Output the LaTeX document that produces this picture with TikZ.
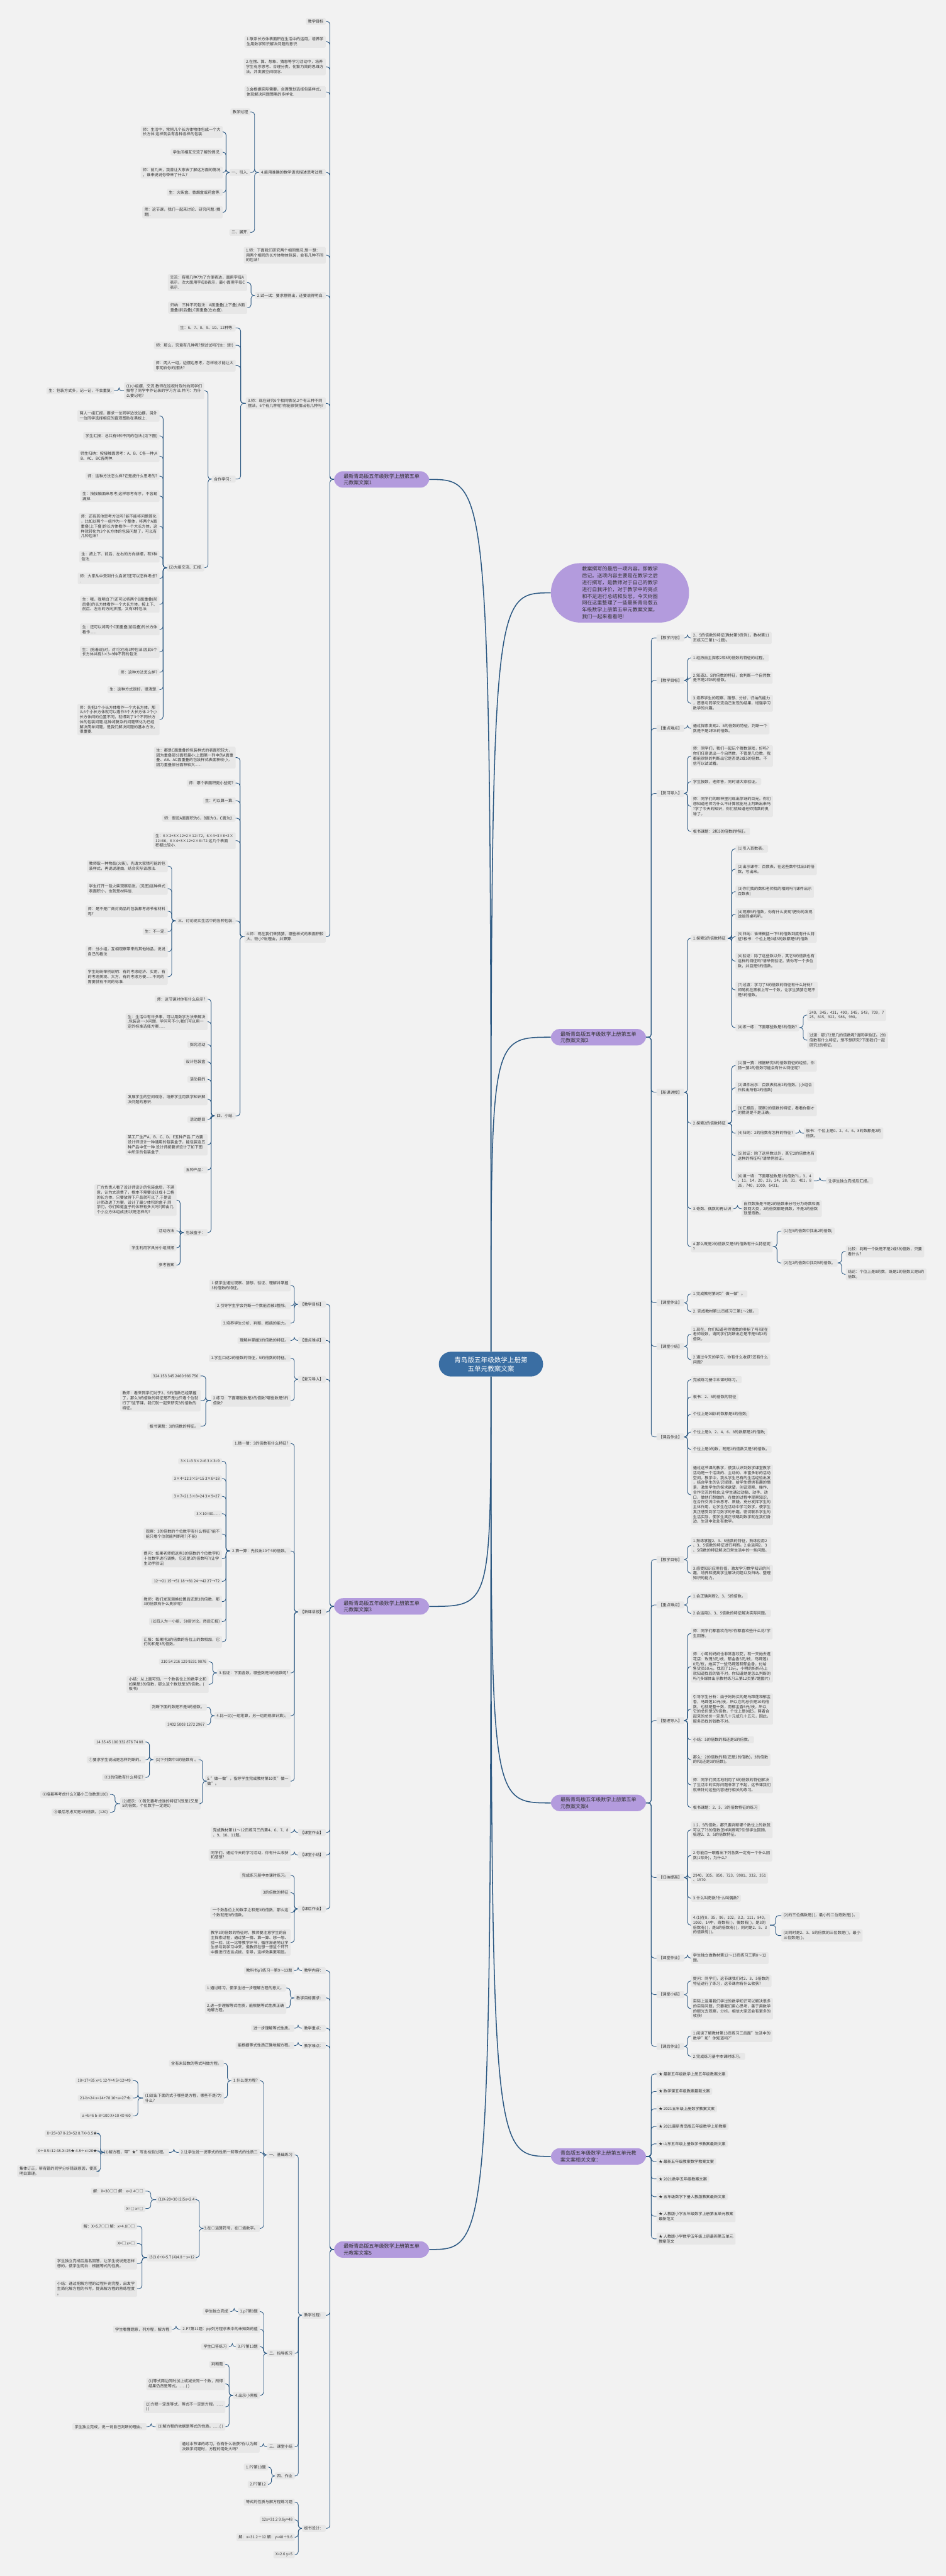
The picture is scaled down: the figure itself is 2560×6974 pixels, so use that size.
\documentclass[tikz,border=0pt]{standalone}
\usepackage{fontspec}
\setmainfont{Noto Sans CJK SC}
\usetikzlibrary{calc}
\definecolor{bgc}{RGB}{242,242,242}
\definecolor{leafc}{RGB}{231,231,231}
\definecolor{linec}{RGB}{43,88,130}
\definecolor{purp}{RGB}{179,155,221}
\definecolor{blu}{RGB}{58,110,163}
\definecolor{txtc}{RGB}{51,51,51}
\tikzset{
  leaf/.style={fill=leafc, text=txtc, rounded corners=3pt, inner xsep=6pt, inner ysep=4.5pt, align=left, font=\fontsize{10.5}{13.2}\selectfont},
  lf/.style={leaf, anchor=east},
  rt/.style={leaf, anchor=west},
  branch/.style={fill=purp, text=txtc, rounded corners=24pt, inner xsep=26pt, inner ysep=7pt, align=left, anchor=west, font=\fontsize{13.7}{17.8}\selectfont},
  link/.style={draw=linec, line width=1.5pt, rounded corners=8pt},
  trunk/.style={draw=linec, line width=2.6pt}
}
% left and right elbow links
\newcommand{\lk}[2]{\draw[link] (#1.west) -- ($(#1.west)!.5!(#1.west-|#2.east)$) |- (#2.east);}
\newcommand{\rk}[2]{\draw[link] (#1.east) -- ($(#1.east)!.5!(#1.east-|#2.west)$) |- (#2.west);}
\begin{document}
\begin{tikzpicture}[x=1pt,y=-1pt]
\fill[bgc] (0,0) rectangle (2560,6974);
\useasboundingbox (0,0) rectangle (2560,6974);

% centre
\node[fill=blu, text=white, rounded corners=33pt, minimum width=282pt, minimum height=67pt, align=center, font=\fontsize{18}{24}\selectfont] (c) at (1329,3693) {青岛版五年级数学上册第\\五单元教案文案};

% ---------------- plan 1
\node[branch] (b1) at (904,1298) {最新青岛版五年级数学上册第五单\\元教案文案1};
\node[lf] (a1) at (882,58) {教学目标};
\node[lf] (a2) at (882,113) {1.联系长方体表面积在生活中的运用，培养学\\生用数学知识解决问题的意识.};
\node[lf] (a3) at (882,181) {2.在摆、算、想象、猜想等学习活动中，培养\\学生有序思考、合理分类、化繁为简的思维方\\法，并发展空间观念.};
\node[lf] (a4) at (882,249) {3.会根据实际需要，合理策划选择包装样式，\\体现解决问题策略的多样化.};
\node[lf] (a5) at (882,467) {4.能用准确的数学语言描述思考过程.};
\node[lf] (a51) at (678,303) {教学过程};
\node[lf] (a52) at (678,467) {一、引入.};
\node[lf] (a53) at (678,629) {二、展开.};
\node[lf] (a521) at (603,357) {师：生活中，常把几个长方体物体包成一个大\\长方体.这样就会有各种各样的包装.};
\node[lf] (a522) at (603,412) {学生间相互交流了解的情况.};
\node[lf] (a523) at (603,467) {师：前几天，我曾让大家去了解这方面的情况\\，谁来说说你带来了什么?};
\node[lf] (a524) at (603,521) {生：火柴盒、香烟盒或药盒等.};
\node[lf] (a525) at (603,575) {师：这节课，我们一起来讨论、研究问题.(揭\\题).};
\node[lf] (a6) at (882,691) {1.师：下面我们研究两个相同情况.想一想：\\用两个相同的长方体物体包装，会有几种不同\\的包法?};
\node[lf] (a7) at (882,800) {2.试一试：要求摆得出，还要说得明白.};
\node[lf] (a71) at (669,765) {交流：有哪几种?为了方便表达，面用字母A\\表示，次大面用字母B表示，最小面用字母C\\表示.};
\node[lf] (a72) at (669,833) {归纳：三种不同包法：A面重叠(上下叠);B面\\重叠(前后叠);C面重叠(左右叠).};
\node[lf] (a8) at (882,1092) {3.师：现在研究6个相同情况.2个有三种不同\\摆法，6个有几种呢?你能很快猜出有几种吗?};
\node[lf] (a81) at (638,888) {生：6、7、8、9、10、12种等.};
\node[lf] (a82) at (638,935) {师：那么，究竟有几种呢?想试试吗?(生：想!)};
\node[lf] (a83) at (638,990) {师：两人一组，边摆边思考，怎样说才能让大\\家明白你的摆法?};
\node[lf] (a84) at (638,1297) {合作学习：};
\node[lf] (a841) at (553,1058) {(1)小组摆、交流.教师在巡视时及时向同学们\\推荐了同学中作记录的学习方法.并问：为什\\么要记呢?};
\node[lf] (a8411) at (309,1058) {生：包装方式多，记一记，不会重复.};
\node[lf] (a842) at (553,1537) {(2)大组交流、汇报.};
\node[lf] (p1) at (432,1126) {两人一组汇报，要求一位同学边说边摆，另外\\一位同学选择相应的直观图贴在黑板上.};
\node[lf] (p2) at (432,1180) {学生汇报：总共有9种不同的包法.(见下图)};
\node[lf] (p3) at (432,1235) {师生归纳：按接触面思考：A、B、C各一种;A\\B、AC、BC各两种.};
\node[lf] (p4) at (432,1289) {师：这种方法怎么样?它是按什么思考的?};
\node[lf] (p5) at (432,1343) {生：按接触面来思考;这样思考有序，不容易\\漏掉.};
\node[lf] (p6) at (432,1425) {师：还有其他思考方法吗?能不能将问题简化\\，比如以两个一组作为一个整体，将两个A面\\重叠(上下叠)的长方体看作一个大长方体，这\\样就转化为3个长方体的包装问题了，可以有\\几种包法?};
\node[lf] (p7) at (432,1507) {生：按上下、前后、左右的方向拼摆，有3种\\包法.};
\node[lf] (p8) at (432,1566) {师：大家从中受到什么启发?还可以怎样考虑?\\.};
\node[lf] (p9) at (432,1636) {生：哦，我明白了!还可以将两个B面重叠(前\\后叠)的长方体看作一个大长方体，按上下、\\前后、左右的方向拼摆，又有3种包法.};
\node[lf] (p10) at (432,1704) {生：还可以将两个C面重叠(前后叠)的长方体\\看作......};
\node[lf] (p11) at (432,1765) {生：(抢着说)对，对!它也有3种包法.因此6个\\长方体共有3×3=9种不同的包法.};
\node[lf] (p12) at (432,1820) {师：这种方法怎么样?};
\node[lf] (p13) at (432,1867) {生：这种方式很好，很清楚.};
\node[lf] (p14) at (432,1948) {师：先把2个小长方体看作一个大长方体，那\\么6个小长方体就可以看作3个大长方体.2个小\\长方体间的位置不同，就得到了3个不同长方\\体的包装问题.这种将复杂的问题转化为已经\\解决简单问题，是我们解决问题的基本方法，\\很重要.};
\node[lf] (a9) at (882,2536) {4.师：现在我们来猜猜，哪些样式的表面积较\\大、较小?说理由，并算算.};
\node[lf] (a91) at (638,2051) {生：都是C面重叠的包装样式的表面积较大，\\因为重叠部分面积最小;上图第一列中的A面重\\叠、AB、AC面重叠的包装样式表面积较小，\\因为重叠部分面积较大......};
\node[lf] (a92) at (638,2120) {师：哪个表面积更小些呢?};
\node[lf] (a93) at (638,2168) {生：可以算一算.};
\node[lf] (a94) at (638,2215) {师：假设A面面积为6，B面为3，C面为2.};
\node[lf] (a95) at (638,2276) {生：6×2+3×12+2×12=72，6×4+3×6+2×\\12=66，6×4+3×12+2×6=72.这几个表面\\积都比较小.};
\node[lf] (a96) at (638,2493) {三、讨论现实生活中的各种包装.};
\node[lf] (a961) at (454,2345) {教师取一种物品(火柴)，先请大家猜可能的包\\装样式，再说说理由，结合实际谈想法.};
\node[lf] (a962) at (454,2406) {学生打开一包火柴观察后说，(见图)这种样式\\表面积小，也就是材料省.};
\node[lf] (a963) at (454,2467) {师：是不是厂商对商品的包装都考虑节省材料\\呢?};
\node[lf] (a964) at (454,2522) {生：不一定.};
\node[lf] (a965) at (454,2576) {师：分小组，互相观察带来的其他物品，说说\\自己的看法.};
\node[lf] (a966) at (454,2644) {学生纷纷举例说明：有的考虑经济、实用，有\\的考虑美观、大方，有的考虑方便......不同的\\需要就有不同的标准.};
\node[lf] (a97) at (638,3021) {四、小结.};
\node[lf] (q1) at (562,2705) {师：这节课对你有什么启示?};
\node[lf] (q2) at (562,2766) {生：生活中有许多事，可以用数学方法来解决\\;包装这一小问题，学问可不小;我们可以用一\\定的标准选择方案......};
\node[lf] (q3) at (562,2828) {探究活动};
\node[lf] (q4) at (562,2875) {设计包装盒};
\node[lf] (q5) at (562,2922) {活动目的};
\node[lf] (q6) at (562,2976) {发展学生的空间观念，培养学生用数学知识解\\决问题的意识.};
\node[lf] (q7) at (562,3031) {活动题目};
\node[lf] (q8) at (562,3099) {某工厂生产A、B、C、D、E五种产品.厂方要\\设计师设计一种通用的包装盒子，能包装这五\\种产品中任一种.设计师按要求设计了如下图\\中所示的包装盒子.};
\node[lf] (q9) at (562,3167) {五种产品：};
\node[lf] (q10) at (562,3337) {包装盒子：};
\node[lf] (q101) at (478,3249) {厂方负责人看了设计师设计的包装盒后，不满\\意，认为太浪费了，根本不需要设计成十二格\\的长方体，只要放得下产品就可以了.于是设\\计师改进了方案，设计了最少体积的盒子.同\\学们，你们知道盒子的体积有多大吗?(即由几\\个小立方体组成)形状是怎样的?};
\node[lf] (q102) at (478,3332) {活动方法};
\node[lf] (q103) at (478,3378) {学生利用学具分小组拼摆};
\node[lf] (q104) at (478,3425) {参考答案};

% ---------------- plan 3
\node[branch] (b3) at (904,4349) {最新青岛版五年级数学上册第五单\\元教案文案3};
\node[lf] (c1) at (882,3531) {【教学目标】};
\node[lf] (c11) at (787,3480) {1.使学生通过观察、猜想、验证、理解并掌握\\3的倍数的特征。};
\node[lf] (c12) at (787,3535) {2.引导学生学会判断一个数能否被3整除。};
\node[lf] (c13) at (787,3582) {3.培养学生分析、判断、概括的能力。};
\node[lf] (c2) at (882,3629) {【重点难点】};
\node[lf] (c21) at (787,3629) {理解并掌握3的倍数的特征。};
\node[lf] (c3) at (882,3734) {【复习导入】};
\node[lf] (c31) at (787,3677) {1.学生口述2的倍数的特征，5的倍数的特征。};
\node[lf] (c32) at (787,3792) {2.练习：下面哪些数是2的倍数?哪些数是5的\\倍数?};
\node[lf] (c321) at (543,3725) {324 153 345 2460 986 756};
\node[lf] (c322) at (543,3792) {教师：看来同学们对于2、5的倍数已经掌握\\了，那么3的倍数的特征是不是也只看个位就\\行了?这节课，我们就一起来研究3的倍数的\\特征。};
\node[lf] (c323) at (543,3861) {板书课题：3的倍数的特征。};
\node[lf] (c4) at (882,4364) {【新课讲授】};
\node[lf] (c41) at (787,3908) {1.猜一猜：3的倍数有什么特征?};
\node[lf] (c42) at (787,4199) {2.算一算：先找出10个3的倍数。};
\node[lf] (r1) at (601,3956) {3×1=3 3×2=6 3×3=9};
\node[lf] (r2) at (601,4003) {3×4=12 3×5=15 3×6=18};
\node[lf] (r3) at (601,4051) {3×7=21 3×8=24 3×9=27};
\node[lf] (r4) at (601,4098) {3×10=30......};
\node[lf] (r5) at (601,4153) {观察：3的倍数的个位数字有什么特征?能不\\能只看个位就能判断呢?(不能)};
\node[lf] (r6) at (601,4220) {提问：如果老师把这些3的倍数的个位数字和\\十位数字进行调换，它还是3的倍数吗?(让学\\生动手验证)};
\node[lf] (r7) at (601,4281) {12→21 15→51 18→81 24→42 27→72};
\node[lf] (r8) at (601,4336) {教师：我们发现调换位置后还是3的倍数，那\\3的倍数有什么奥妙呢?};
\node[lf] (r9) at (601,4390) {(以四人为一小组、分组讨论，然后汇报)};
\node[lf] (r10) at (601,4445) {汇报：如果把3的倍数的各位上的数相加，它\\们的和是3的倍数。};
\node[lf] (c43) at (787,4529) {3.验证：下面各数，哪些数是3的倍数呢?};
\node[lf] (c431) at (565,4499) {210 54 216 129 9231 9876};
\node[lf] (c432) at (565,4560) {小结：从上面可知，一个数各位上的数字之和\\如果是3的倍数，那么这个数就是3的倍数。(\\板书)};
\node[lf] (c44) at (787,4645) {4.比一比(一组笔算，另一组用规律计算)。};
\node[lf] (c441) at (560,4622) {判断下面的数是不是3的倍数。};
\node[lf] (c442) at (560,4669) {3402 5003 1272 2967};
\node[lf] (c45) at (787,4822) {5."做一做"，指导学生完成教材第10页"做一\\做"。};
\node[lf] (c451) at (543,4764) {(1)下列数中3的倍数有 。};
\node[lf] (c4511) at (394,4716) {14 35 45 100 332 876 74 88};
\node[lf] (c4512) at (394,4764) {①要求学生说出是怎样判断的。};
\node[lf] (c4513) at (394,4812) {②3的倍数有什么特征?};
\node[lf] (c452) at (543,4883) {(2)提示：①首先要考虑谁的特征?(既是2又是\\5的倍数，个位数字一定是0)};
\node[lf] (c4521) at (298,4858) {②接着再考虑什么?(最小三位数是100)};
\node[lf] (c4522) at (298,4906) {③最后考虑又是3的倍数。(120)};
\node[lf] (c5) at (882,4961) {【课堂作业】};
\node[lf] (c51) at (787,4961) {完成教材第11～12页练习三的第4、6、7、8\\、9、10、11题。};
\node[lf] (c6) at (882,5022) {【课堂小结】};
\node[lf] (c61) at (787,5022) {同学们，通过今天的学习活动，你有什么收获\\和感想?};
\node[lf] (c7) at (882,5168) {【课后作业】};
\node[lf] (c71) at (787,5077) {完成练习册中本课时练习。};
\node[lf] (c72) at (787,5124) {3的倍数的特征};
\node[lf] (c73) at (787,5178) {一个数各位上的数字之和是3的倍数，那么这\\个数就是3的倍数。};
\node[lf] (c74) at (787,5259) {教学3的倍数的特征时，教师要注意学生的自\\主探索过程，通过猜一猜、算一算、想一想、\\验一验、比一比等教学环节，循序渐进地让学\\生参与到学习中来，但教师在想一想这个环节\\中要进行适当点拨、引导，这样效果更明显。};

% ---------------- plan 5
\node[branch] (b5) at (904,6090) {最新青岛版五年级数学上册第五单\\元教案文案5};
\node[lf] (e1) at (882,5335) {教学内容：};
\node[lf] (e11) at (797,5335) {教科书p7练习一第9～13题};
\node[lf] (e2) at (882,5409) {教学目标要求：};
\node[lf] (e21) at (775,5382) {1.通过练习，使学生进一步理解方程的意义。};
\node[lf] (e22) at (775,5436) {2.进一步理解等式性质，能根据等式性质正确\\地解方程。};
\node[lf] (e3) at (882,5491) {教学重点：};
\node[lf] (e31) at (797,5491) {进一步理解等式性质。};
\node[lf] (e4) at (882,5538) {教学难点：};
\node[lf] (e41) at (797,5538) {能根据等式性质正确地解方程。};
\node[lf] (e5) at (882,6268) {教学过程：};
\node[lf] (e51) at (798,5834) {一、基础练习};
\node[lf] (e511) at (704,5633) {1.什么是方程?};
\node[lf] (e5111) at (606,5586) {含有未知数的等式叫做方程。};
\node[lf] (e5112) at (606,5680) {(1)说出下面的式子哪些是方程，哪些不是?为\\什么?};
\node[lf] (s1) at (360,5633) {18+17=35 x=1 12-Y=4 S+12=49};
\node[lf] (s2) at (360,5680) {21-b<24 x=14+78 16+a=27+b};
\node[lf] (s3) at (360,5728) {a +b=6 b-8=100 X+10 4X=60};
\node[lf] (e512) at (704,5827) {2.让学生说一说等式的性质一和等式的性质二};
\node[lf] (e5121) at (458,5827) {(1)解方程，带"★"写出检验过程。};
\node[lf] (t1) at (269,5776) {X+25=37 X-23=52 0.7X=3.5★};
\node[lf] (t2) at (269,5823) {X÷0.5=12 48-X=25★ 4.8÷x=20★};
\node[lf] (t3) at (269,5878) {集体订正，帮有错的同学分析错误原因，使其\\明白算理。};
\node[lf] (e513) at (704,6033) {3.在○运算符号，在□填数字。};
\node[lf] (e5131) at (533,5955) {(1)X-20=30 (2)5x=2.4};
\node[lf] (u1) at (394,5932) {解：X=30○□ 解：x=2.4○□};
\node[lf] (u2) at (394,5979) {X=□ x=□};
\node[lf] (e5132) at (533,6112) {(3)3.6+X=5.7 (4)4.8÷x=12};
\node[lf] (v1) at (371,6027) {解：X=5.7○□ 解：x=4.8○□};
\node[lf] (v2) at (371,6074) {X=□ x=□};
\node[lf] (v3) at (371,6128) {学生独立完成后指名回答，让学生说说是怎样\\想的。使学生明白：根据等式的性质。};
\node[lf] (v4) at (371,6196) {小结：通过把解方程的过程补充完整，启发学\\生简化解方程的书写，提高解方程的熟练程度\\。};
\node[lf] (e52) at (798,6371) {二、指导练习};
\node[lf] (e521) at (704,6258) {1.p7第9题};
\node[lf] (e5211) at (624,6258) {学生独立完成};
\node[lf] (e522) at (704,6306) {2.P7第11题：pp列方程求表中的未知数的值};
\node[lf] (e5221) at (465,6306) {学生看懂题意，列方程，解方程};
\node[lf] (e523) at (704,6353) {3.P7第13题};
\node[lf] (e5231) at (620,6353) {学生口答练习};
\node[lf] (e524) at (704,6485) {4.出示小黑板};
\node[lf] (w1) at (610,6401) {判断题};
\node[lf] (w2) at (610,6454) {(1)等式两边同时加上或减去同一个数，所得\\结果仍然是等式。......( )};
\node[lf] (w3) at (610,6516) {(2)方程一定是等式，等式不一定是方程。......\\( )};
\node[lf] (w4) at (610,6570) {(3)解方程的依据是等式的性质。......( )};
\node[lf] (w41) at (397,6570) {学生独立完成，说一说自己判断的理由。};
\node[lf] (e53) at (798,6624) {三、课堂小结};
\node[lf] (e531) at (703,6624) {通过本节课的练习，你有什么收获?你认为解\\决数学问题时，方程的用处大吗?};
\node[lf] (e54) at (798,6703) {四、作业};
\node[lf] (e541) at (726,6679) {1.P7第10题};
\node[lf] (e542) at (726,6726) {2.P7第12};
\node[lf] (e6) at (882,6845) {板书设计：};
\node[lf] (e61) at (798,6774) {等式的性质与解方程练习题};
\node[lf] (e62) at (798,6822) {12x=31.2 9.6y=48};
\node[lf] (e63) at (798,6869) {解：x=31.2÷12 解：y=48÷9.6};
\node[lf] (e64) at (798,6916) {X=2.6 y=5};

% ---------------- intro
\node[branch, rounded corners=80pt, minimum width=374pt, minimum height=161pt, inner xsep=10pt, font=\fontsize{13.7}{18.4}\selectfont] (b0) at (1491,1605) {教案撰写的最后一项内容，即教学\\后记。送项内容主要是在教学之后\\进行撰写，是教师对于自己的教学\\进行自我评价，对于教学中的亮点\\和不足进行总结和反思。今天树图\\网在这里整理了一些最新青岛版五\\年级数学上册第五单元教案文案，\\我们一起来看看吧!};

% ---------------- plan 2
\node[branch] (b2) at (1491,2808) {最新青岛版五年级数学上册第五单\\元教案文案2};
\node[rt] (d1) at (1777,1727) {【教学内容】};
\node[rt] (d11) at (1870,1727) {2、5的倍数的特征(教材第9页例1，教材第11\\页练习三第1～2题)。};
\node[rt] (d2) at (1777,1842) {【教学目标】};
\node[rt] (d21) at (1870,1781) {1.经历自主探索2和5的倍数的特征的过程。};
\node[rt] (d22) at (1870,1835) {2.知道2、5的倍数的特征，会判断一个自然数\\是不是2和5的倍数。};
\node[rt] (d23) at (1870,1904) {3.培养学生的观察、猜想、分析、归纳的能力\\，愿意与同学交流自己发现的结果，增强学习\\数学的兴趣。};
\node[rt] (d3) at (1777,1972) {【重点难点】};
\node[rt] (d31) at (1870,1972) {通过探索发现2、5的倍数的特征，判断一个\\数是不是2和5的倍数。};
\node[rt] (d4) at (1777,2148) {【复习导入】};
\node[rt] (d41) at (1870,2047) {师：同学们，我们一起玩个猜数游戏，好吗?\\你们任意说出一个自然数，不管是几位数，我\\都能很快的判断出它是否是2或5的倍数。不\\信可以试试看。};
\node[rt] (d42) at (1870,2116) {学生报数，老师答，同时请大家验证。};
\node[rt] (d43) at (1870,2183) {师：同学们的眼神里闪现出惊讶的目光。你们\\想知道老师为什么不计算就能马上判断出来吗\\?学了今天的知识，你们就知道老师猜数的奥\\秘了。};
\node[rt] (d44) at (1870,2251) {板书课题：2和5的倍数的特征。};
\node[rt] (d5) at (1777,2957) {【新课讲授】};
\node[rt] (d51) at (1870,2540) {1.探索5的倍数特征};
\node[rt] (h1) at (1991,2298) {(1)引入百数表。};
\node[rt] (h2) at (1991,2353) {(2)出示课件：百数表，在这些数中找出5的倍\\数，写出来。};
\node[rt] (h3) at (1991,2414) {(3)你们找的数和老师找的相同吗?(课件出示\\百数表)};
\node[rt] (h4) at (1991,2475) {(4)观察5的倍数，你有什么发现?把你的发现\\说给同桌听听。};
\node[rt] (h5) at (1991,2536) {(5)归纳：谁来概括一下5的倍数到底有什么特\\征?板书：个位上是0或5的数都是5的倍数};
\node[rt] (h6) at (1991,2602) {(6)验证：除了这些数以外，其它5的倍数也有\\这样的特征吗?请举例验证。请你写一个多位\\数，并且是5的倍数。};
\node[rt] (h7) at (1991,2680) {(7)过渡：学习了5的倍数的特征有什么好处?\\师随机在黑板上写一个数，让学生猜猜它是不\\是5的倍数。};
\node[rt] (h8) at (1991,2782) {(8)练一练：下面哪些数是5的倍数?};
\node[rt] (h81) at (2185,2748) {240，345，431，490，545，543，709，7\\25，815，922，986，990。};
\node[rt] (h82) at (2185,2816) {过渡：那172是几的倍数呢?请同学验证。2的\\倍数有什么特征，想不想研究?下面我们一起\\研究2的特征。};
\node[rt] (d52) at (1870,3041) {2.探索2的倍数特征};
\node[rt] (k1) at (1991,2885) {(1)猜一猜：根据研究5的倍数特征的经验，你\\猜一猜2的倍数可能会有什么特征呢?};
\node[rt] (k2) at (1991,2945) {(2)课件出示：百数表找出2的倍数。(小组合\\作找出所有2的倍数)};
\node[rt] (k3) at (1991,3006) {(3)汇报后，观察2的倍数的特征，看看你刚才\\的猜测是不是正确。};
\node[rt] (k4) at (1991,3068) {(4)归纳：2的倍数有怎样的特征?};
\node[rt] (k41) at (2176,3068) {板书：个位上是0、2、4、6、8的数都是2的\\倍数。};
\node[rt] (k5) at (1991,3129) {(5)验证：除了这些数以外，其它2的倍数也有\\这样的特征吗?请举例验证。};
\node[rt] (k6) at (1991,3197) {(6)填一填：下面哪些数是2的倍数?1，3，4\\，11，14，20，23，24，28，31，401，8\\26，740，1000，6431。};
\node[rt] (k61) at (2236,3197) {让学生独立完成后汇报。};
\node[rt] (d53) at (1870,3272) {3.奇数、偶数的再认识};
\node[rt] (d531) at (2007,3272) {自然数按是不是2的倍数来分可分为奇数和偶\\数两大类，2的倍数都是偶数，不是2的倍数\\就是奇数。};
\node[rt] (d54) at (1870,3375) {4.那么既是2的倍数又是5的倍数有什么特征呢\\?};
\node[rt] (d541) at (2115,3333) {(1)在5的倍数中找出2的倍数;};
\node[rt] (d542) at (2115,3419) {(2)在2的倍数中找到5的倍数。};
\node[rt] (d5421) at (2289,3388) {比较：判断一个数是不是2或5的倍数，只要\\看什么?};
\node[rt] (d5422) at (2289,3450) {结论：个位上是0的数，既是2的倍数又是5的\\倍数。};
\node[rt] (d6) at (1777,3527) {【课堂作业】};
\node[rt] (d61) at (1870,3503) {1.完成教材第9页"做一做"。};
\node[rt] (d62) at (1870,3551) {2. 完成教材第11页练习三第1～2题。};
\node[rt] (d7) at (1777,3645) {【课堂小结】};
\node[rt] (d71) at (1870,3612) {1.现在，你们知道老师猜数的奥秘了吗?现在\\老师说数，请同学们判断出它是不是5或2的\\倍数。};
\node[rt] (d72) at (1870,3681) {2.通过今天的学习，你有什么收获?还有什么\\问题?};
\node[rt] (d8) at (1777,3890) {【课后作业】};
\node[rt] (d81) at (1870,3735) {完成练习册中本课时练习。};
\node[rt] (d82) at (1870,3782) {板书：2、5的倍数的特征};
\node[rt] (d83) at (1870,3829) {个位上是0或5的数都是5的倍数;};
\node[rt] (d84) at (1870,3877) {个位上是0、2、4、6、8的数都是2的倍数;};
\node[rt] (d85) at (1870,3924) {个位上是0的数，既是2的倍数又是5的倍数。};
\node[rt] (d86) at (1870,4047) {通过这节课的教学，使我认识到数学课堂教学\\活动是一个活泼的、主动的、丰富多彩的活动\\空间。教学中，我从学生已有的生活经验出发\\，结合学生的认识规律，给学生提供有趣的情\\景，激发学生的探求欲望，创设观察、操作、\\合作交流的机会;让学生通过动脑、动手、动\\口，做他们想做的，在做的过程中观察知识，\\在合作交流中去思考、质疑。充分发挥学生的\\主体作用，让学生在活动中学习数学，使学生\\真正感受到学习数学的乐趣。密切联系学生的\\生活实际，使学生真正领略到数学就在我们身\\边，生活中处处有数学。};

% ---------------- plan 4
\node[branch] (b4) at (1491,4881) {最新青岛版五年级数学上册第五单\\元教案文案4};
\node[rt] (f1) at (1777,4222) {【教学目标】};
\node[rt] (f11) at (1870,4184) {1.熟练掌握2、3、5倍数的特征，熟练应用2\\、3、5倍数的特征进行判断。2.会运用2、3\\、5倍数的特征解决日常生活中的一些问题。};
\node[rt] (f12) at (1870,4259) {3.感受知识应用价值，激发学习数学知识的兴\\趣，培养和提高学生解决问题以及归纳、整理\\知识的能力。};
\node[rt] (f2) at (1777,4345) {【重点难点】};
\node[rt] (f21) at (1870,4321) {1.会正确判断2、3、5的倍数。};
\node[rt] (f22) at (1870,4368) {2.会运用2、3、5倍数的特征解决实际问题。};
\node[rt] (f3) at (1777,4658) {【整理导入】};
\node[rt] (f31) at (1870,4422) {师：同学们都喜欢花吗?你都喜欢些什么花?学\\生回答。};
\node[rt] (f32) at (1870,4512) {师：小明的妈妈也非常喜欢花，有一天她去逛\\花店：玫瑰3元/枝，郁金香5元/枝，马蹄莲1\\0元/枝，她买了一些马蹄莲和郁金香，付给\\售货员50元，找回了13元，小明的妈妈马上\\就知道找回的钱不对。你知道她是怎么判断的\\吗?(多媒体出示教材练习三第12页第7题图片)};
\node[rt] (f33) at (1870,4627) {引导学生分析：由于妈妈买的是马蹄莲和郁金\\香，马蹄莲10元/枝，所以它的总价是10的倍\\数，也就是整十数，而郁金香5元/枝，所以\\它的总价是5的倍数，个位上是0或5，两者合\\起来的总价一定是几十元或几十五元，因此，\\服务员找的钱数不对。};
\node[rt] (f34) at (1870,4710) {小结：5的倍数的和还是5的倍数。};
\node[rt] (f35) at (1870,4764) {那么：2的倍数的和(还是2的倍数)，3的倍数\\的和(还是3的倍数)。};
\node[rt] (f36) at (1870,4832) {师：同学们灵活地利用了5的倍数的特征解决\\了生活中的实际问题非常了不起，这节课我们\\就来针对这些内容进行相关的练习。};
\node[rt] (f37) at (1870,4893) {板书课题：2、5、3的倍数特征的练习};
\node[rt] (f4) at (1777,5083) {【归纳提高】};
\node[rt] (f41) at (1870,4954) {1.2、5的倍数，都只要判断哪个数位上的数就\\可以了?3的倍数怎样判断呢?引领学生回顾，\\梳理2、3、5的倍数特征。};
\node[rt] (f42) at (1870,5023) {2.你能否一眼看出下列各数一定有一个什么因\\数(1除外)，为什么?};
\node[rt] (f43) at (1870,5084) {2940、305、850、723、9981、332、351\\、1570.};
\node[rt] (f44) at (1870,5139) {3.什么叫奇数?什么叫偶数?};
\node[rt] (f45) at (1870,5212) {4.(1)在8，35，96，102，3.2，111，840，\\1060，14中，奇数有( )，偶数有( )，是3的\\倍数有( )，是5的倍数有( )，同时是2、5、3\\的倍数有( )。};
\node[rt] (f451) at (2115,5186) {(2)的三位偶数是( )，最小的二位奇数是( )。};
\node[rt] (f452) at (2115,5240) {(3)同时是2、3、5的倍数的三位数是( )，最小\\三位数是( )。};
\node[rt] (f5) at (1777,5301) {【课堂作业】};
\node[rt] (f51) at (1870,5301) {学生独立做教材第12～13页练习三第8～12\\题。};
\node[rt] (f6) at (1777,5400) {【课堂小结】};
\node[rt] (f61) at (1870,5363) {提问：同学们，这节课我们对2、3、5倍数的\\特征进行了练习，这节课你有什么收获?};
\node[rt] (f62) at (1870,5438) {实际上运用我们学过的数学知识可以解决很多\\的实际问题，只要我们用心思考，善于用数学\\的眼光去观察，分析，相信大家还会有更多的\\收获!};
\node[rt] (f7) at (1777,5540) {【课后作业】};
\node[rt] (f71) at (1870,5512) {1.阅读了解教材第13页练习三后面"生活中的\\数学"和"你知道吗?"};
\node[rt] (f72) at (1870,5567) {2.完成练习册中本课时练习。};

% ---------------- related
\node[branch] (b6) at (1491,5838) {青岛版五年级数学上册第五单元教\\案文案相关文章：};
\node[rt] (g1) at (1777,5615) {★ 最新五年级数学上册五年级教案文案};
\node[rt] (g2) at (1777,5662) {★ 数学课五年级教案最新文案};
\node[rt] (g3) at (1777,5709) {★ 2021五年级上册数学教案文案};
\node[rt] (g4) at (1777,5757) {★ 2021最新青岛版五年级数学上册教案};
\node[rt] (g5) at (1777,5804) {★ 山东五年级上册数学书教案最新文案};
\node[rt] (g6) at (1777,5852) {★ 最新五年级教案数学教案文案};
\node[rt] (g7) at (1777,5899) {★ 2021数学五年级教案文案};
\node[rt] (g8) at (1777,5947) {★ 五年级数学下册人教版教案最新文案};
\node[rt] (g9) at (1777,6000) {★ 人教版小学五年级数学上册第五单元教案\\最新范文};
\node[rt] (g10) at (1777,6061) {★ 人教版小学数学五年级上册最新第五单元\\教案范文};

% trunk
\foreach \b in {b1} \draw[trunk] (c.north) .. controls (c.north|-\b.east) .. (\b.east);
\foreach \b in {b0,b2} \draw[trunk] (c.north) .. controls (c.north|-\b.west) .. (\b.west);
\foreach \b in {b3,b5} \draw[trunk] (c.south) .. controls (c.south|-\b.east) .. (\b.east);
\foreach \b in {b4,b6} \draw[trunk] (c.south) .. controls (c.south|-\b.west) .. (\b.west);

% left links
\foreach \c in {a1,a2,a3,a4,a5,a6,a7,a8,a9} {\lk{b1}{\c}}
\foreach \c in {a51,a52,a53} {\lk{a5}{\c}}
\foreach \c in {a521,a522,a523,a524,a525} {\lk{a52}{\c}}
\foreach \c in {a71,a72} {\lk{a7}{\c}}
\foreach \c in {a81,a82,a83,a84} {\lk{a8}{\c}}
\foreach \c in {a841,a842} {\lk{a84}{\c}}
\lk{a841}{a8411}
\foreach \c in {p1,p2,p3,p4,p5,p6,p7,p8,p9,p10,p11,p12,p13,p14} {\lk{a842}{\c}}
\foreach \c in {a91,a92,a93,a94,a95,a96,a97} {\lk{a9}{\c}}
\foreach \c in {a961,a962,a963,a964,a965,a966} {\lk{a96}{\c}}
\foreach \c in {q1,q2,q3,q4,q5,q6,q7,q8,q9,q10} {\lk{a97}{\c}}
\foreach \c in {q101,q102,q103,q104} {\lk{q10}{\c}}
\foreach \c in {c1,c2,c3,c4,c5,c6,c7} {\lk{b3}{\c}}
\foreach \c in {c11,c12,c13} {\lk{c1}{\c}}
\lk{c2}{c21}
\foreach \c in {c31,c32} {\lk{c3}{\c}}
\foreach \c in {c321,c322,c323} {\lk{c32}{\c}}
\foreach \c in {c41,c42,c43,c44,c45} {\lk{c4}{\c}}
\foreach \c in {r1,r2,r3,r4,r5,r6,r7,r8,r9,r10} {\lk{c42}{\c}}
\foreach \c in {c431,c432} {\lk{c43}{\c}}
\foreach \c in {c441,c442} {\lk{c44}{\c}}
\foreach \c in {c451,c452} {\lk{c45}{\c}}
\foreach \c in {c4511,c4512,c4513} {\lk{c451}{\c}}
\foreach \c in {c4521,c4522} {\lk{c452}{\c}}
\lk{c5}{c51}
\lk{c6}{c61}
\foreach \c in {c71,c72,c73,c74} {\lk{c7}{\c}}
\foreach \c in {e1,e2,e3,e4,e5,e6} {\lk{b5}{\c}}
\lk{e1}{e11}
\foreach \c in {e21,e22} {\lk{e2}{\c}}
\lk{e3}{e31}
\lk{e4}{e41}
\foreach \c in {e51,e52,e53,e54} {\lk{e5}{\c}}
\foreach \c in {e511,e512,e513} {\lk{e51}{\c}}
\foreach \c in {e5111,e5112} {\lk{e511}{\c}}
\foreach \c in {s1,s2,s3} {\lk{e5112}{\c}}
\lk{e512}{e5121}
\foreach \c in {t1,t2,t3} {\lk{e5121}{\c}}
\foreach \c in {e5131,e5132} {\lk{e513}{\c}}
\foreach \c in {u1,u2} {\lk{e5131}{\c}}
\foreach \c in {v1,v2,v3,v4} {\lk{e5132}{\c}}
\foreach \c in {e521,e522,e523,e524} {\lk{e52}{\c}}
\lk{e521}{e5211}
\lk{e522}{e5221}
\lk{e523}{e5231}
\foreach \c in {w1,w2,w3,w4} {\lk{e524}{\c}}
\lk{w4}{w41}
\lk{e53}{e531}
\foreach \c in {e541,e542} {\lk{e54}{\c}}
\foreach \c in {e61,e62,e63,e64} {\lk{e6}{\c}}

% right links
\foreach \c in {d1,d2,d3,d4,d5,d6,d7,d8} {\rk{b2}{\c}}
\rk{d1}{d11}
\foreach \c in {d21,d22,d23} {\rk{d2}{\c}}
\rk{d3}{d31}
\foreach \c in {d41,d42,d43,d44} {\rk{d4}{\c}}
\foreach \c in {d51,d52,d53,d54} {\rk{d5}{\c}}
\foreach \c in {h1,h2,h3,h4,h5,h6,h7,h8} {\rk{d51}{\c}}
\foreach \c in {h81,h82} {\rk{h8}{\c}}
\foreach \c in {k1,k2,k3,k4,k5,k6} {\rk{d52}{\c}}
\rk{k4}{k41}
\rk{k6}{k61}
\rk{d53}{d531}
\foreach \c in {d541,d542} {\rk{d54}{\c}}
\foreach \c in {d5421,d5422} {\rk{d542}{\c}}
\foreach \c in {d61,d62} {\rk{d6}{\c}}
\foreach \c in {d71,d72} {\rk{d7}{\c}}
\foreach \c in {d81,d82,d83,d84,d85,d86} {\rk{d8}{\c}}
\foreach \c in {f1,f2,f3,f4,f5,f6,f7} {\rk{b4}{\c}}
\foreach \c in {f11,f12} {\rk{f1}{\c}}
\foreach \c in {f21,f22} {\rk{f2}{\c}}
\foreach \c in {f31,f32,f33,f34,f35,f36,f37} {\rk{f3}{\c}}
\foreach \c in {f41,f42,f43,f44,f45} {\rk{f4}{\c}}
\foreach \c in {f451,f452} {\rk{f45}{\c}}
\rk{f5}{f51}
\foreach \c in {f61,f62} {\rk{f6}{\c}}
\foreach \c in {f71,f72} {\rk{f7}{\c}}
\foreach \c in {g1,g2,g3,g4,g5,g6,g7,g8,g9,g10} {\rk{b6}{\c}}
\end{tikzpicture}
\end{document}
